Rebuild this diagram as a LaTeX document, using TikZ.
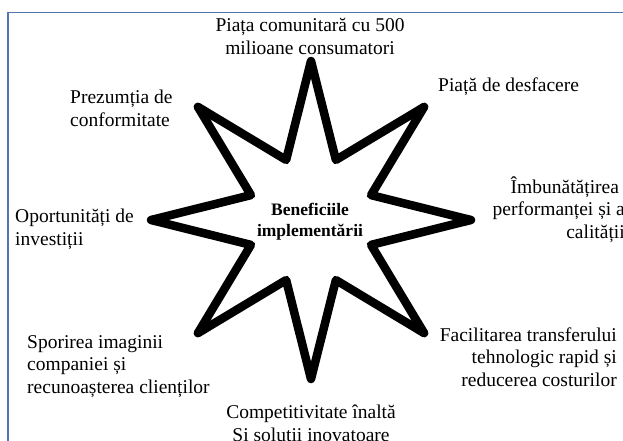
\documentclass[tikz,border=0pt]{standalone}
\usepackage{fontspec}
\setmainfont{Liberation Serif}
\definecolor{framecol}{RGB}{84,118,176}
\begin{document}
\begin{tikzpicture}[x=1pt,y=-1pt,
  lbl/.style={font=\fontsize{19.5}{22.5}\selectfont, inner sep=0pt},
  ctr/.style={font=\fontsize{17.5}{21.5}\selectfont\bfseries, inner sep=0pt, align=center},
  starline/.style={line width=8.5pt, line join=round, draw=black},
  frameline/.style={draw=framecol, line width=1.2pt}]
\useasboundingbox (0,0) rectangle (623,441);
\clip (0,0) rectangle (623,441);
\draw[frameline] (8,12.5) rectangle (640,460);
\coordinate (c) at (311,220);
\begin{scope}[shift={(c)}]
\draw[starline] (90:159) -- (112.5:65) -- (135:160) -- (157.5:65) -- (180:160) -- (202.5:65)
  -- (225:160) -- (247.5:65) -- (270:159) -- (292.5:65) -- (315:160) -- (337.5:65)
  -- (0:160) -- (22.5:65) -- (45:160) -- (67.5:65) -- cycle;
\end{scope}
\node[ctr, anchor=base] (center) at (310,236.5) {Beneficiile\\implementării};
\node[lbl, align=center, anchor=base] (top) at (310,54.5) {Piața comunitară cu 500\\milioane consumatori};
\node[lbl, align=left, anchor=base west] (tr) at (438,92) {Piață de desfacere};
\node[lbl, align=left, anchor=base west] (tl) at (70,126) {Prezumția de\\conformitate};
\node[lbl, align=left, anchor=base west] (l) at (15,245) {Oportunități de\\investiții};
\node[lbl, align=right, anchor=base east] (r) at (625,238) {Îmbunătățirea\hspace*{0.3em}\\performanței și a\\calității};
\node[lbl, align=right, anchor=base east] (br) at (617,386) {Facilitarea transferului\\tehnologic rapid și\\reducerea costurilor};
\node[lbl, align=left, anchor=base west] (bl) at (27,393) {Sporirea imaginii\\companiei și\\recunoașterea clienților};
\node[lbl, align=center, anchor=base] (b) at (311,441) {Competitivitate înaltă\\Si solutii inovatoare};
\end{tikzpicture}
\end{document}
